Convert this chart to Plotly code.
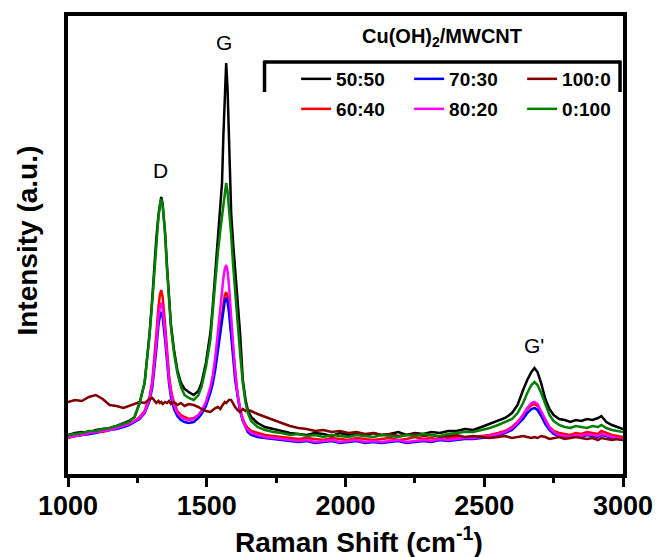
import plotly.graph_objects as go

# Raman shift grid (cm^-1)
raman_shift = [1000, 1025, 1050, 1075, 1100, 1125, 1150, 1175, 1200, 1220,
               1240, 1258, 1276, 1294, 1304, 1311, 1318, 1326, 1331, 1336,
               1341, 1350, 1357, 1364, 1371, 1382, 1394, 1407, 1420, 1435,
               1453, 1470, 1481, 1497, 1513, 1522, 1531, 1540, 1549, 1555,
               1560, 1565, 1570, 1575, 1580, 1588, 1595, 1602, 1611, 1620,
               1630, 1640, 1648, 1660, 1683, 1710, 1740, 1770, 1800, 1830,
               1860, 1890, 1920, 1950, 1980, 2010, 2040, 2070, 2100, 2130,
               2160, 2190, 2220, 2250, 2280, 2310, 2340, 2370, 2400, 2430,
               2460, 2490, 2520, 2550, 2575, 2600, 2620, 2640, 2655, 2670,
               2681, 2692, 2705, 2720, 2735, 2750, 2770, 2790, 2810, 2830,
               2850, 2870, 2890, 2910, 2922, 2940, 2960, 2980, 3000]

# Intensities (a.u.)
i_50_50 = [40, 42, 43, 42, 45, 46, 47, 49, 52, 54,
           58, 72, 92, 142, 178, 208, 236, 260, 272, 278,
           271, 242, 208, 175, 150, 125, 105, 92, 86, 83,
           80, 84, 92, 112, 142, 170, 202, 235, 262, 292,
           340, 385, 412, 386, 340, 262, 232, 208, 175, 142,
           95, 75, 65, 58, 52, 48, 46, 44, 42, 41,
           40, 42, 41, 39, 42, 40, 41, 39, 42, 40,
           41, 43, 40, 42, 41, 43, 42, 44, 44, 46,
           45, 48, 51, 54, 57, 62, 70, 85, 95, 103,
           107, 103, 92, 76, 66, 60, 56, 55, 53, 55,
           54, 56, 55, 57, 59, 53, 50, 48, 46]

i_60_40 = [37, 39, 40, 41, 43, 43, 45, 47, 49, 51,
           54, 58, 64, 78, 95, 115, 140, 168, 180, 185,
           178, 150, 122, 100, 85, 72, 64, 60, 58, 56,
           57, 60, 64, 72, 85, 95, 110, 128, 148, 162,
           172, 180, 183, 178, 168, 145, 120, 98, 80, 66,
           56, 50, 47, 44, 42, 40, 39, 38, 37, 36,
           37, 36, 35, 37, 36, 35, 37, 36, 35, 36,
           37, 35, 36, 38, 36, 37, 35, 37, 38, 37,
           38, 39, 40, 42, 44, 48, 53, 60, 66, 70,
           71, 69, 63, 55, 48, 44, 42, 41, 40, 42,
           41, 43, 42, 41, 44, 42, 40, 39, 38]

i_70_30 = [38, 39, 40, 41, 42, 44, 45, 46, 48, 50,
           53, 56, 62, 74, 88, 104, 125, 150, 159, 163,
           158, 135, 110, 92, 78, 66, 59, 55, 53, 52,
           53, 57, 61, 69, 82, 92, 106, 124, 143, 156,
           167, 174, 177, 173, 163, 142, 118, 96, 78, 64,
           54, 47, 43, 40, 38, 37, 36, 35, 34, 33,
           34, 32, 33, 34, 32, 33, 34, 32, 33, 32,
           33, 34, 32, 33, 34, 33, 35, 34, 35, 36,
           36, 37, 38, 40, 42, 45, 50, 56, 62, 66,
           67, 65, 59, 51, 45, 41, 39, 38, 37, 39,
           38, 40, 39, 38, 40, 39, 37, 36, 35]

i_80_20 = [38, 39, 40, 42, 43, 44, 45, 47, 49, 51,
           54, 57, 63, 76, 92, 110, 132, 158, 168, 172,
           166, 142, 116, 96, 82, 70, 62, 58, 56, 55,
           56, 60, 64, 73, 88, 100, 118, 140, 165, 183,
           197, 206, 210, 204, 190, 160, 130, 104, 82, 66,
           55, 48, 45, 42, 40, 38, 37, 36, 35, 34,
           35, 33, 34, 35, 33, 34, 35, 33, 34, 33,
           34, 35, 33, 34, 35, 34, 36, 35, 36, 37,
           37, 38, 39, 41, 43, 47, 52, 60, 67, 72,
           73, 71, 64, 55, 47, 43, 40, 39, 38, 40,
           39, 41, 40, 39, 41, 40, 38, 37, 36]

i_100_0 = [73, 75, 74, 78, 80, 76, 70, 69, 67, 69,
           71, 73, 72, 76, 77, 74, 72, 74, 72, 73,
           71, 73, 72, 74, 71, 73, 70, 72, 69, 71,
           70, 68, 66, 64, 63, 65, 67, 68, 66, 69,
           71, 73, 72, 74, 75, 75, 71, 68, 65, 63,
           66, 64, 65, 64, 61, 58, 55, 52, 49, 47,
           46, 44, 45, 43, 44, 42, 43, 41, 42, 40,
           41, 39, 40, 41, 39, 40, 38, 39, 40, 38,
           39, 38, 37, 38, 39, 37, 38, 39, 38, 37,
           38, 37, 39, 38, 36, 37, 38, 36, 37, 38,
           37, 36, 37, 35, 37, 36, 35, 36, 35]

i_0_100 = [40, 41, 42, 44, 44, 46, 47, 49, 51, 53,
           58, 72, 92, 140, 175, 205, 234, 258, 270, 276,
           270, 240, 205, 172, 148, 122, 102, 88, 80, 77,
           75, 80, 88, 108, 135, 165, 195, 222, 245, 258,
           272, 285, 292, 283, 268, 240, 210, 185, 150, 122,
           92, 72, 62, 54, 48, 45, 43, 42, 40, 41,
           39, 40, 38, 40, 39, 38, 40, 39, 38, 40,
           39, 38, 40, 39, 41, 40, 39, 41, 42, 43,
           43, 45, 47, 50, 53, 56, 62, 72, 82, 90,
           93, 90, 82, 70, 60, 54, 50, 48, 47, 49,
           48, 47, 49, 48, 50, 47, 45, 44, 43]

# series in drawing order: (name, values, colour, legend, rank)
series = [
    ("50:50", i_50_50, "#000000", "legend", 1),
    ("60:40", i_60_40, "#ff0000", "legend2", 4),
    ("70:30", i_70_30, "#0000ff", "legend", 2),
    ("80:20", i_80_20, "#ff00ff", "legend2", 5),
    ("100:0", i_100_0, "#800000", "legend", 3),
    ("0:100", i_0_100, "#008000", "legend2", 6),
]

band_labels = ["D", "G", "G'"]
band_x = [1334, 1562, 2680]
band_y = [305, 433, 130]

x_ticks = [1000, 1500, 2000, 2500, 3000]

FONT = "Liberation Sans, Arial, sans-serif"

fig = go.Figure()
for name, vals, col, leg, rank in series:
    fig.add_trace(go.Scatter(
        x=raman_shift, y=vals, mode="lines", name=name,
        line=dict(color=col, width=2.5), legend=leg, legendrank=rank))

for t, bx, by in zip(band_labels, band_x, band_y):
    fig.add_annotation(x=bx, y=by, xref="x", yref="y", text=t, showarrow=False,
                       xanchor="center", yanchor="middle",
                       font=dict(family=FONT, size=21, color="black"))

W, H = 665, 557
L, R, T, B = 68, 35, 16, 83
pw, ph = W - L - R, H - T - B

def px(xp):
    return (xp - L) / pw

def py(yp):
    return (H - B - yp) / ph

legfont = dict(family=FONT, size=19, color="black", weight="bold")
common_leg = dict(orientation="h", font=legfont, bgcolor="rgba(0,0,0,0)",
                  borderwidth=0, entrywidth=68, entrywidthmode="pixels",
                  xanchor="left", yanchor="middle", traceorder="normal",
                  itemclick=False, tracegroupgap=0)

fig.update_layout(
    width=W, height=H,
    margin=dict(l=L, r=R, t=T, b=B, pad=0),
    paper_bgcolor="white", plot_bgcolor="white",
    showlegend=True,
    legend=dict(x=px(299), y=py(79), **common_leg),
    legend2=dict(x=px(299), y=py(109), **common_leg),
    font=dict(family=FONT, color="black"),
)

# legend title and bracket
fig.add_annotation(x=px(447), y=py(37), xref="paper", yref="paper",
                   xanchor="center", yanchor="middle",
                   text="Cu(OH)<sub>2</sub>/MWCNT", showarrow=False,
                   font=dict(family=FONT, size=20, color="black", weight="bold"))
for x0, y0, x1, y1 in [(267, 62, 627, 62), (267, 60.5, 267, 92), (627, 60.5, 627, 92)]:
    fig.add_shape(type="line", xref="paper", yref="paper",
                  x0=px(x0), y0=py(y0), x1=px(x1), y1=py(y1),
                  line=dict(color="black", width=3.5))

# axis titles
fig.add_annotation(x=px(26), y=py(241), xref="paper", yref="paper",
                   xanchor="center", yanchor="middle",
                   text="Intensity (a.u.)", textangle=-90, showarrow=False,
                   font=dict(family=FONT, size=28, color="black", weight="bold"))
fig.add_annotation(x=px(363), y=py(540), xref="paper", yref="paper",
                   xanchor="center", yanchor="middle",
                   text="Raman Shift (cm<sup>-1</sup>)", showarrow=False,
                   font=dict(family=FONT, size=28, color="black", weight="bold"))

fig.update_xaxes(
    range=[1000, 3000], showgrid=False, zeroline=False,
    showline=True, linecolor="black", linewidth=4, mirror=True,
    ticks="outside", ticklen=9, tickwidth=3, tickcolor="black",
    tickvals=x_ticks, ticktext=[str(v) for v in x_ticks],
    ticklabelstandoff=-4,
    tickfont=dict(family=FONT, size=27, color="black", weight="bold"),
    minor=dict(ticks="outside", ticklen=5, tickwidth=3, tickcolor="black", dtick=250, tick0=1000),
)
fig.update_yaxes(
    range=[1, 459], showgrid=False, zeroline=False,
    showline=True, linecolor="black", linewidth=4, mirror=True,
    ticks="", showticklabels=False,
)

fig.write_html("out.html")
